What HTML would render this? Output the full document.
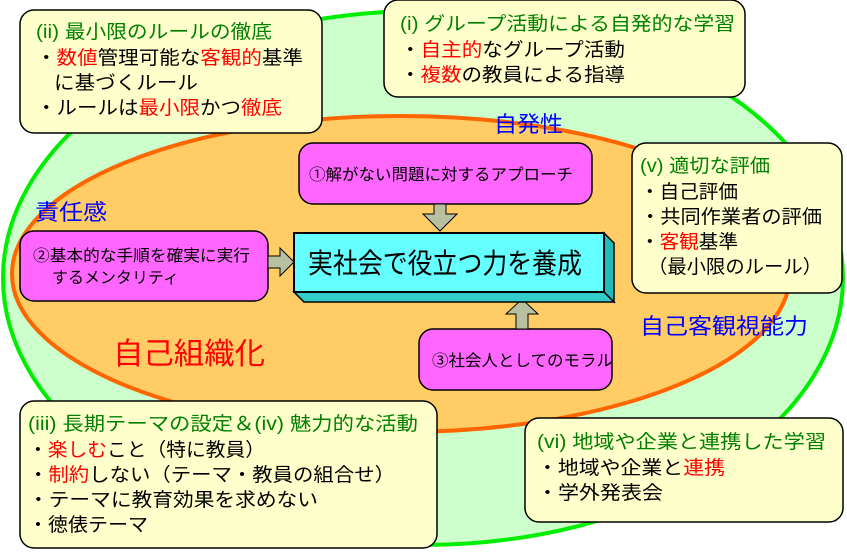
<!DOCTYPE html>
<html><head><meta charset="utf-8"><style>
html,body{margin:0;padding:0;background:#fff;}
svg text{font-family:"Liberation Sans","Noto Sans CJK JP",sans-serif;}
</style></head><body>
<svg width="847" height="551" viewBox="0 0 847 551" xmlns="http://www.w3.org/2000/svg">
<ellipse cx="423" cy="278" rx="420" ry="267" fill="#ccffcc" stroke="#00ee00" stroke-width="4"/>
<ellipse cx="401" cy="274" rx="389" ry="158" fill="#ffcc66" stroke="#ff6600" stroke-width="4"/>

<rect x="20" y="10" width="302" height="123" rx="14" fill="#ffffcc" stroke="#000" stroke-width="1.5"/>
<rect x="384" y="0" width="361" height="97" rx="14" fill="#ffffcc" stroke="#000" stroke-width="1.5"/>
<rect x="632" y="143" width="210" height="150" rx="14" fill="#ffffcc" stroke="#000" stroke-width="1.5"/>
<rect x="20" y="401" width="417" height="147" rx="14" fill="#ffffcc" stroke="#000" stroke-width="1.5"/>
<rect x="525" y="418" width="318" height="104" rx="14" fill="#ffffcc" stroke="#000" stroke-width="1.5"/>

<rect x="299" y="143" width="293" height="61" rx="14" fill="#ff66ff" stroke="#000" stroke-width="1.5"/>
<rect x="20" y="231" width="248" height="70" rx="14" fill="#ff66ff" stroke="#000" stroke-width="1.5"/>
<rect x="419" y="329" width="193" height="61" rx="14" fill="#ff66ff" stroke="#000" stroke-width="1.5"/>

<polygon points="434,204 446,204 446,214 457,214 440,231 423,214 434,214" fill="#b8c0a0" stroke="#000" stroke-width="1"/>
<polygon points="268,256 280,256 280,248 294,262 280,276 280,268 268,268" fill="#b8c0a0" stroke="#000" stroke-width="1"/>
<polygon points="516,329 528,329 528,314 538,314 522,299 506,314 516,314" fill="#b8c0a0" stroke="#000" stroke-width="1"/>

<polygon points="294,292 604,292 614,302 304,302" fill="#33cccc" stroke="#000" stroke-width="1.5"/>
<polygon points="604,233 614,243 614,302 604,292" fill="#22bbbb" stroke="#000" stroke-width="1.5"/>
<rect x="294" y="233" width="310" height="59" fill="#66ffff" stroke="#000" stroke-width="2"/>
<text x="308" y="273" font-size="28" textLength="274" lengthAdjust="spacingAndGlyphs">実社会で役立つ力を養成</text>

<g font-size="16" lengthAdjust="spacingAndGlyphs">
<text x="309" y="180" textLength="264" lengthAdjust="spacingAndGlyphs">①解がない問題に対するアプローチ</text>
<text x="33" y="261" textLength="217" lengthAdjust="spacingAndGlyphs">②基本的な手順を確実に実行</text>
<text x="52" y="283" textLength="127" lengthAdjust="spacingAndGlyphs">するメンタリティ</text>
<text x="432" y="366" textLength="181" lengthAdjust="spacingAndGlyphs">③社会人としてのモラル</text>
</g>

<text x="494" y="132" font-size="22" fill="#0000ff" textLength="69" lengthAdjust="spacingAndGlyphs">自発性</text>
<text x="35" y="220" font-size="22" fill="#0000ff" textLength="72" lengthAdjust="spacingAndGlyphs">責任感</text>
<text x="640" y="334" font-size="22" fill="#0000ff" textLength="168" lengthAdjust="spacingAndGlyphs">自己客観視能力</text>
<text x="113" y="364" font-size="30" fill="#ff0000" textLength="152" lengthAdjust="spacingAndGlyphs">自己組織化</text>

<g font-size="19">
<text x="36" y="38" fill="#008000" textLength="236" lengthAdjust="spacingAndGlyphs">(ii) 最小限のルールの徹底</text>
<text x="36" y="64" textLength="267" lengthAdjust="spacingAndGlyphs">・<tspan fill="#ff0000">数値</tspan>管理可能な<tspan fill="#ff0000">客観的</tspan>基準</text>
<text x="54" y="89" textLength="144" lengthAdjust="spacingAndGlyphs">に基づくルール</text>
<text x="36" y="114" textLength="246" lengthAdjust="spacingAndGlyphs">・ルールは<tspan fill="#ff0000">最小限</tspan>かつ<tspan fill="#ff0000">徹底</tspan></text>

<text x="400" y="30" fill="#008000" textLength="335" lengthAdjust="spacingAndGlyphs">(i) グループ活動による自発的な学習</text>
<text x="400" y="56" textLength="225" lengthAdjust="spacingAndGlyphs">・<tspan fill="#ff0000">自主的</tspan>なグループ活動</text>
<text x="400" y="81" textLength="225" lengthAdjust="spacingAndGlyphs">・<tspan fill="#ff0000">複数</tspan>の教員による指導</text>

<text x="640" y="172" fill="#008000" textLength="130" lengthAdjust="spacingAndGlyphs">(v) 適切な評価</text>
<text x="640" y="198" textLength="98" lengthAdjust="spacingAndGlyphs">・自己評価</text>
<text x="640" y="223" textLength="182" lengthAdjust="spacingAndGlyphs">・共同作業者の評価</text>
<text x="640" y="248" textLength="98" lengthAdjust="spacingAndGlyphs">・<tspan fill="#ff0000">客観</tspan>基準</text>
<text x="648" y="273" textLength="174" lengthAdjust="spacingAndGlyphs">（最小限のルール）</text>

<text x="28" y="430" fill="#008000" textLength="390" lengthAdjust="spacingAndGlyphs">(iii) 長期テーマの設定＆(iv) 魅力的な活動</text>
<text x="28" y="456" textLength="237" lengthAdjust="spacingAndGlyphs">・<tspan fill="#ff0000">楽しむ</tspan>こと（特に教員）</text>
<text x="28" y="481" textLength="367" lengthAdjust="spacingAndGlyphs">・<tspan fill="#ff0000">制約</tspan>しない（テーマ・教員の組合せ）</text>
<text x="28" y="506" textLength="290" lengthAdjust="spacingAndGlyphs">・テーマに教育効果を求めない</text>
<text x="28" y="531" textLength="120" lengthAdjust="spacingAndGlyphs">・徳俵テーマ</text>

<text x="537" y="448" fill="#008000" textLength="289" lengthAdjust="spacingAndGlyphs">(vi) 地域や企業と連携した学習</text>
<text x="537" y="474" textLength="188" lengthAdjust="spacingAndGlyphs">・地域や企業と<tspan fill="#ff0000">連携</tspan></text>
<text x="537" y="499" textLength="126" lengthAdjust="spacingAndGlyphs">・学外発表会</text>
</g>
</svg>
</body></html>
